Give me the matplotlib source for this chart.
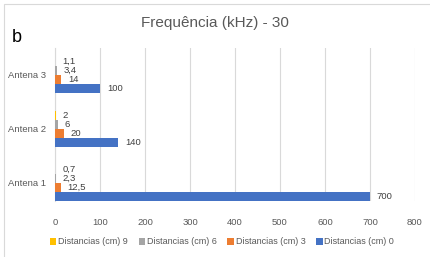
import matplotlib.pyplot as plt
import numpy as np
from matplotlib.patches import Rectangle

plt.rcParams['font.family'] = ['Liberation Sans', 'DejaVu Sans']

antenas = ['Antena 1', 'Antena 2', 'Antena 3']
series_names = ['Distancias (cm) 0', 'Distancias (cm) 3', 'Distancias (cm) 6', 'Distancias (cm) 9']
dist_0 = [700, 140, 100]
dist_3 = [12.5, 20, 14]
dist_6 = [2.3, 6, 3.4]
dist_9 = [0.7, 2, 1.1]
colors = ['#4472C4', '#ED7D31', '#A5A5A5', '#FFC000']

W, H = 431, 257
fig = plt.figure(figsize=(W / 100, H / 100), dpi=100)
ax = fig.add_axes([55 / W, 1 - 201 / H, (415 - 55) / W, (201 - 48) / H])

# chart border
fig.patches.append(Rectangle((4 / W, -0.1), 1.2, 1 - 4 / H + 0.1, transform=fig.transFigure,
                             fill=False, edgecolor='#D9D9D9', linewidth=0.8))

y = np.arange(len(antenas))
h = 1 / 6
offsets = [-1.5 * h, -0.5 * h, 0.5 * h, 1.5 * h]
bars = []
for vals, off, col, name in zip([dist_0, dist_3, dist_6, dist_9], offsets, colors, series_names):
    b = ax.barh(y + off, vals, height=h, color=col, label=name, zorder=3)
    bars.append(b)
    for yi, v in zip(y, vals):
        txt = ('%g' % v).replace('.', ',')
        ax.annotate(txt, (v, yi + off), xytext=(5, 0), textcoords='offset points',
                    va='center', ha='left', fontsize=6.8, color='#404040')

ax.set_xlim(0, 800)
ax.set_ylim(-1 / 3, 2.5)
ax.set_xticks(range(0, 801, 100))
ax.set_yticks(y)
ax.set_yticklabels(antenas)
ax.tick_params(axis='both', length=0, labelsize=6.8, labelcolor='#595959')
ax.tick_params(axis='y', pad=6.5)
ax.tick_params(axis='x', pad=12)
ax.grid(axis='x', color='#D9D9D9', linewidth=0.8, zorder=0)
for s in ['top', 'right', 'bottom']:
    ax.spines[s].set_visible(False)
ax.spines['left'].set_color('#D9D9D9')

fig.text(215 / W, 1 - 23 / H, 'Frequência (kHz) - 30', ha='center', va='center',
         fontsize=11, color='#595959')
fig.text(12 / W, 1 - 38 / H, 'b', ha='left', va='center', fontsize=13, color='black')

handles = bars[::-1]
leg = fig.legend(handles, [b.get_label() for b in handles], loc='center',
                 bbox_to_anchor=(222 / W, 1 - 242 / H), ncol=4, frameon=False,
                 fontsize=6.5, handlelength=0.7, handleheight=0.7, handletextpad=0.2,
                 columnspacing=1.2)
for t in leg.get_texts():
    t.set_color('#595959')

fig.savefig('out.png', dpi=100)
